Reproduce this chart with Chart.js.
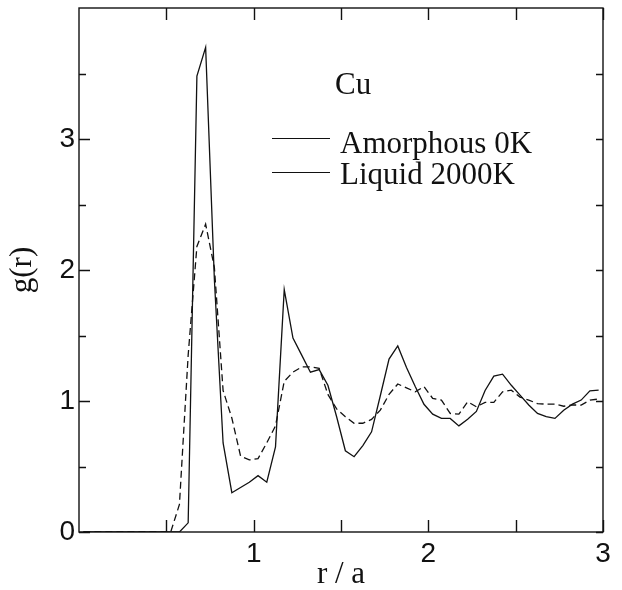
<!DOCTYPE html>
<html>
<head>
<meta charset="utf-8">
<script src="https://cdn.jsdelivr.net/npm/chart.js@4.4.1/dist/chart.umd.min.js"></script>
<style>
  html, body { margin: 0; padding: 0; background: #fff; }
  #wrap { width: 622px; height: 590px; }
</style>
</head>
<body>
<div id="wrap"><canvas id="c" width="622" height="590"></canvas></div>
<script>
// r / a (bin centres)
const r = [0.025,0.075,0.125,0.175,0.225,0.275,0.325,0.375,0.425,0.475,
           0.525,0.575,0.625,0.675,0.725,0.775,0.825,0.875,0.925,0.975,
           1.025,1.075,1.125,1.175,1.225,1.275,1.325,1.375,1.425,1.475,
           1.525,1.575,1.625,1.675,1.725,1.775,1.825,1.875,1.925,1.975,
           2.025,2.075,2.125,2.175,2.225,2.275,2.325,2.375,2.425,2.475,
           2.525,2.575,2.625,2.675,2.725,2.775,2.825,2.875,2.925,2.975];
// g(r) Amorphous 0K (solid)
const amorphous = [0,0,0,0,0,0,0,0,0,0,
                   0,0,0.07,3.48,3.70,1.93,0.68,0.30,0.34,0.38,
                   0.43,0.38,0.65,1.85,1.48,1.35,1.22,1.24,1.12,0.88,
                   0.62,0.575,0.66,0.765,1.04,1.32,1.42,1.256,1.11,0.975,
                   0.90,0.867,0.867,0.81,0.86,0.92,1.08,1.19,1.205,1.12,
                   1.045,0.97,0.905,0.88,0.867,0.93,0.976,1.007,1.078,1.083];
// g(r) Liquid 2000K (dashed)
const liquid = [0,0,0,0,0,0,0,0,0,0,
                0,0.21,1.35,2.18,2.35,2.02,1.08,0.87,0.58,0.55,
                0.56,0.68,0.81,1.15,1.22,1.26,1.26,1.25,1.05,0.94,
                0.88,0.83,0.83,0.86,0.93,1.05,1.13,1.10,1.07,1.11,
                1.02,1.007,0.905,0.90,0.994,0.956,0.99,0.99,1.07,1.083,
                1.03,1.007,0.98,0.976,0.976,0.96,0.97,0.969,1.007,1.015];
const seriesNames = ['Amorphous 0K', 'Liquid 2000K'];
const elementLabel = 'Cu';
const xTickLabels = ['1', '2', '3'];
const yTickLabels = ['0', '1', '2', '3'];
const xMinorTicks = [0.5, 1.5, 2.5];
const yMinorTicks = [0.5, 1.5, 2.5, 3.5];

const SERIF = '"Liberation Serif", "Times New Roman", serif';
const SANS = '"Liberation Sans", Arial, sans-serif';

const framePlugin = {
  id: 'frame',
  afterDraw(chart) {
    const {ctx, chartArea: a, scales: {x, y}} = chart;
    ctx.save();
    ctx.strokeStyle = '#111';
    ctx.lineWidth = 1.4;
    ctx.strokeRect(a.left, a.top, a.right - a.left, a.bottom - a.top);
    ctx.beginPath();
    const xs = xTickLabels.map(Number).concat(xMinorTicks);
    xs.forEach(v => {
      const px = Math.round(x.getPixelForValue(v)) + 0.5;
      ctx.moveTo(px, a.bottom); ctx.lineTo(px, a.bottom - 12);
      ctx.moveTo(px, a.top); ctx.lineTo(px, a.top + 12);
    });
    yTickLabels.map(Number).forEach(v => {
      const py = Math.round(y.getPixelForValue(v)) + 0.5;
      ctx.moveTo(a.left, py); ctx.lineTo(a.left + 11, py);
      ctx.moveTo(a.right, py); ctx.lineTo(a.right - 7, py);
    });
    yMinorTicks.forEach(v => {
      const py = Math.round(y.getPixelForValue(v)) + 0.5;
      ctx.moveTo(a.left, py); ctx.lineTo(a.left + 7, py);
      ctx.moveTo(a.right, py); ctx.lineTo(a.right - 7, py);
    });
    ctx.stroke();

    // legend
    ctx.fillStyle = '#111';
    ctx.font = '31px ' + SERIF;
    ctx.textBaseline = 'alphabetic';
    ctx.textAlign = 'left';
    ctx.fillText(elementLabel, 335, 94);
    ctx.lineWidth = 1.2;
    ctx.beginPath();
    ctx.moveTo(272, 138.5); ctx.lineTo(330, 138.5);
    ctx.moveTo(272, 172.5); ctx.lineTo(330, 172.5);
    ctx.stroke();
    ctx.fillText(seriesNames[0], 340, 153);
    ctx.fillText(seriesNames[1], 340, 183.5);
    ctx.restore();
  }
};

new Chart(document.getElementById('c'), {
  type: 'line',
  data: {
    datasets: [
      {
        label: seriesNames[0],
        data: r.map((v, i) => ({x: v, y: amorphous[i]})),
        borderColor: '#111', borderWidth: 1.3, pointRadius: 0, tension: 0, fill: false
      },
      {
        label: seriesNames[1],
        data: r.map((v, i) => ({x: v, y: liquid[i]})),
        borderColor: '#111', borderWidth: 1.3, borderDash: [7, 4], pointRadius: 0, tension: 0, fill: false
      }
    ]
  },
  options: {
    responsive: false,
    animation: false,
    devicePixelRatio: 1,
    layout: { padding: { top: 8, right: 19, bottom: 0, left: 0 } },
    plugins: { legend: { display: false }, tooltip: { enabled: false } },
    scales: {
      x: {
        type: 'linear', min: 0, max: 3,
        grid: { display: false, drawTicks: false, tickLength: 0 },
        border: { display: false },
        afterBuildTicks: s => { s.ticks = xTickLabels.map(t => ({value: Number(t)})); },
        afterFit: s => { s.height = 58; s.paddingLeft = 0; s.paddingRight = 0; },
        ticks: { color: '#111', font: { family: SANS, size: 28 }, padding: 5, maxRotation: 0,
                 callback: v => xTickLabels[xTickLabels.map(Number).indexOf(v)] },
        title: { display: true, text: 'r / a', color: '#111', font: { family: SERIF, size: 31, lineHeight: 1.2 }, padding: { top: 0, bottom: -3 } }
      },
      y: {
        type: 'linear', min: 0, max: 4,
        grid: { display: false, drawTicks: false, tickLength: 0 },
        border: { display: false },
        afterBuildTicks: s => { s.ticks = yTickLabels.map(t => ({value: Number(t)})); },
        afterFit: s => { s.width = 79; s.paddingTop = 0; s.paddingBottom = 0; },
        ticks: { color: '#111', font: { family: SANS, size: 28 }, padding: 4,
                 callback: v => yTickLabels[yTickLabels.map(Number).indexOf(v)] },
        title: { display: true, text: 'g(r)', color: '#111', font: { family: SERIF, size: 31, lineHeight: 1.2 }, padding: { top: 4, bottom: 0 } }
      }
    }
  },
  plugins: [framePlugin]
});
</script>
</body>
</html>
